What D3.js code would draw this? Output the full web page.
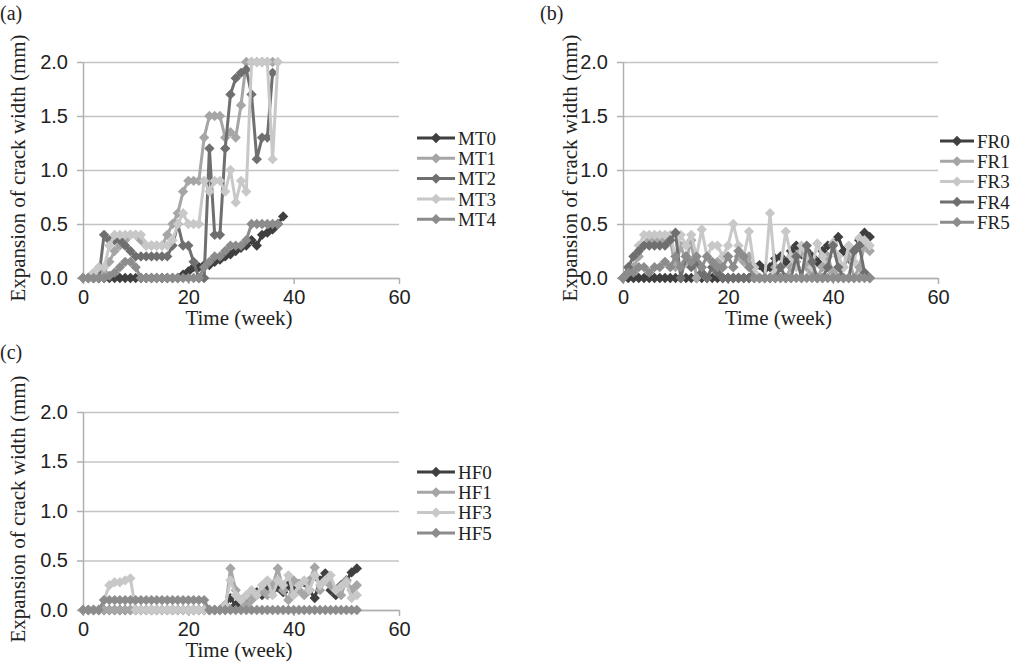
<!DOCTYPE html>
<html>
<head>
<meta charset="utf-8">
<script src="https://cdn.jsdelivr.net/npm/d3@7"></script>
<style>
  body { margin: 0; background: #fff; }
  svg { font-family: "Liberation Serif", "Times New Roman", serif; }
  .axis path, .axis line { stroke: #b0b0b0; stroke-width: 1.5; }
  .grid line { stroke: #c4c4c4; stroke-width: 1.5; }
  .axis text { fill: #222; font-size: 20px; }
</style>
</head>
<body>
<svg id="chart" width="1010" height="669"></svg>
<script>
// ---- data (value per week, starting at week 0) ----
const xTicks = [0, 20, 40, 60];
const yTicks = [0, 0.5, 1.0, 1.5, 2.0];

// (a)
const namesA = ['MT0', 'MT1', 'MT2', 'MT3', 'MT4'];
const MT0 = [0,0,0,0,0,0,0,0,0,0, 0,0,0,0,0,0,0,0,0,0.03,
  0.06,0.1,0.1,0.12,0.12,0.15,0.17,0.2,0.22,0.25, 0.28,0.3,0.35,0.3,0.4,0.42,0.45,0.5,0.57];
const MT1 = [0,0,0,0,0.05,0.15,0.25,0.3,0.35,0.4, 0.4,0.35,0.3,0.3,0.3,0.3,0.4,0.5,0.6,0.8,
  0.9,0.9,0.9,1.3,1.5,1.5,1.5,1.3,1.35,1.3, 1.6,2.0,2.0,2.0,2.0,2.0,2.0];
const MT2 = [0,0,0,0,0.4,0.35,0.35,0.35,0.3,0.25, 0.2,0.2,0.2,0.2,0.2,0.2,0.2,0.3,0.5,0.3,
  0.3,0.15,0,0,1.2,0.4,0.4,1.2,1.7,1.85, 1.9,1.93,1.7,1.1,1.3,1.3,1.9];
const MT3 = [0,0,0.05,0.1,0.1,0.3,0.4,0.4,0.4,0.4, 0.4,0.4,0.3,0.3,0.3,0.3,0.3,0.35,0.5,0.6,
  0.5,0.5,0.5,0.9,0.8,0.9,0.9,0.8,1.0,0.7, 0.9,0.8,2.0,2.0,2.0,2.0,1.1,2.0];
const MT4 = [0,0,0,0,0,0.02,0.05,0.1,0.15,0.15, 0.1,0,0,0,0,0,0,0,0,0,
  0,0,0,0.1,0.15,0.2,0.2,0.25,0.3,0.3, 0.3,0.35,0.5,0.5,0.5,0.5,0.5,0.5];

// (b)
const namesB = ['FR0', 'FR1', 'FR3', 'FR4', 'FR5'];
const FR0 = [0,0,0,0,0,0,0,0,0,0, 0,0,0,0,0,0,0,0,0,0,
  0,0,0,0,0,0.1,0.12,0.08,0.1,0.18, 0.2,0.15,0.25,0.3,0.22,0.25,0.2,0.15,0.25,0.3,
  0.32,0.38,0.25,0.18,0.25,0.35,0.42,0.38];
const FR1 = [0,0.05,0.1,0.2,0.3,0.35,0.35,0.35,0.35,0.35, 0.1,0.3,0.15,0.35,0,0.1,0,0.1,0.15,0.1,
  0.2,0.1,0.2,0.15,0.2,0,0,0,0,0.1, 0,0,0.1,0.15,0.25,0.1,0.05,0,0.1,0.2,
  0.05,0,0.1,0.2,0,0.1,0.3,0.25];
const FR3 = [0,0.1,0.2,0.3,0.4,0.4,0.4,0.4,0.4,0.4, 0.2,0.4,0.3,0.4,0.2,0.45,0.2,0.3,0.3,0.2,
  0.3,0.5,0.3,0.2,0.43,0.1,0,0,0.6,0.05, 0.1,0.43,0.2,0.1,0.3,0.2,0.1,0.32,0.2,0.1,
  0.32,0.2,0.1,0.3,0.15,0.37,0.35,0.3];
const FR4 = [0,0.1,0.2,0.25,0.3,0.3,0.3,0.3,0.3,0.35, 0.42,0,0.2,0.1,0.15,0.05,0,0.1,0.05,0,
  0,0,0,0,0,0,0,0,0,0, 0.1,0,0,0.2,0,0.3,0.15,0,0,0.1,
  0.3,0.1,0,0,0.25,0.3,0.05,0];
const FR5 = [0,0.05,0.05,0.1,0.1,0.05,0.1,0.1,0.15,0.1, 0.2,0.1,0.2,0.15,0.2,0.1,0.2,0.15,0.1,0.1,
  0.2,0.1,0.25,0.2,0.1,0,0,0,0,0, 0,0,0,0,0,0,0,0,0,0,
  0,0,0,0,0,0,0,0];

// (c)
const namesC = ['HF0', 'HF1', 'HF3', 'HF5'];
const HF0 = [0,0,0,0,0,0,0,0,0,0, 0,0,0,0,0,0,0,0,0,0,
  0,0,0,0,0,0,0,0.05,0.12,0.05, 0.1,0.08,0.13,0.18,0.15,0.24,0.2,0.23,0.18,0.25,
  0.2,0.26,0.28,0.2,0.12,0.3,0.37,0.2,0.15,0.25, 0.3,0.38,0.42];
const HF1 = [0,0,0,0,0,0,0,0,0,0, 0,0,0,0,0,0,0,0,0,0,
  0,0,0,0,0,0,0,0,0.42,0.2, 0.1,0.05,0.1,0.15,0.2,0.15,0.25,0.42,0.2,0.1,
  0.3,0.2,0.15,0.3,0.43,0.2,0.3,0.25,0.2,0.15, 0.3,0.2,0.25];
const HF3 = [0,0,0,0,0.1,0.25,0.28,0.28,0.3,0.32, 0,0,0,0,0,0,0,0,0,0,
  0,0,0,0,0,0,0,0.05,0.3,0.15, 0.1,0.15,0.2,0.15,0.25,0.3,0.15,0.3,0.25,0.35,
  0.15,0.25,0.3,0.2,0.35,0.25,0.3,0.35,0.2,0.24, 0.28,0.12,0.15];
const HF5 = [0,0,0,0,0.1,0.1,0.1,0.1,0.1,0.1, 0.1,0.1,0.1,0.1,0.1,0.1,0.1,0.1,0.1,0.1,
  0.1,0.1,0.1,0.1,0,0,0,0,0,0, 0,0,0,0,0,0,0,0,0,0,
  0,0,0,0,0,0,0,0,0,0, 0,0,0];

// greys used by the series, in legend order
const greysA = ['#3f3f3f', '#a6a6a6', '#6f6f6f', '#c8c8c8', '#8c8c8c'];
const greysB = ['#3f3f3f', '#a6a6a6', '#c8c8c8', '#6f6f6f', '#8c8c8c'];
const greysC = ['#3f3f3f', '#a6a6a6', '#c8c8c8', '#8c8c8c'];

const svg = d3.select('#chart');
const diamond = d3.symbol().type(d3.symbolDiamond2).size(68);

function drawPanel(cfg) {
  const w = cfg.width, h = cfg.height;
  const g = svg.append('g').attr('transform', `translate(${cfg.left},${cfg.top})`);

  const x = d3.scaleLinear().domain([0, 60]).range([0, w]);
  const y = d3.scaleLinear().domain([0, 2]).range([h, 0]);

  // gridlines
  g.append('g').attr('class', 'grid')
    .call(d3.axisLeft(y).tickValues(yTicks).tickSize(-w).tickFormat(''))
    .call(s => s.select('.domain').remove());

  // y axis
  g.append('g').attr('class', 'axis')
    .call(d3.axisLeft(y).tickValues(yTicks).tickSize(6).tickSizeOuter(0)
      .tickPadding(9).tickFormat(d3.format('.1f')));

  // x axis
  g.append('g').attr('class', 'axis')
    .attr('transform', `translate(0,${h})`)
    .call(d3.axisBottom(x).tickValues(xTicks).tickSize(6).tickSizeOuter(0).tickPadding(6));

  const line = d3.line()
    .x((d, i) => x(i))
    .y(d => y(d));

  cfg.series.forEach((vals, k) => {
    const sg = g.append('g');
    sg.append('path')
      .datum(vals)
      .attr('d', line)
      .attr('fill', 'none')
      .attr('stroke', cfg.colors[k])
      .attr('stroke-width', 3)
      .attr('stroke-linejoin', 'round');
    sg.selectAll('path.pt')
      .data(vals)
      .join('path')
      .attr('class', 'pt')
      .attr('d', diamond)
      .attr('transform', (d, i) => `translate(${x(i)},${y(d)})`)
      .attr('fill', cfg.colors[k]);
  });

  // axis titles
  svg.append('text')
    .attr('transform', `translate(${cfg.yTitleX},${cfg.top + h / 2 - 2}) rotate(-90)`)
    .attr('text-anchor', 'middle')
    .attr('dy', '0.35em')
    .style('font-size', '21px')
    .attr('fill', '#222')
    .text('Expansion of crack width (mm)');

  svg.append('text')
    .attr('x', cfg.left + w / 2 - 2)
    .attr('y', cfg.top + h + 40)
    .attr('text-anchor', 'middle')
    .attr('dy', '0.35em')
    .style('font-size', '21px')
    .attr('fill', '#222')
    .text('Time (week)');

  svg.append('text')
    .attr('x', cfg.labelX)
    .attr('y', cfg.labelY)
    .attr('dy', '0.35em')
    .style('font-size', '20px')
    .attr('fill', '#222')
    .text(cfg.label);

  // legend
  const lg = svg.append('g').attr('transform', `translate(${cfg.legX},${cfg.legY})`);
  cfg.names.forEach((n, k) => {
    const row = lg.append('g').attr('transform', `translate(0,${k * 20.3})`);
    row.append('line')
      .attr('x1', 0).attr('x2', cfg.legLen)
      .attr('stroke', cfg.colors[k]).attr('stroke-width', 3);
    row.append('path').attr('d', diamond)
      .attr('transform', `translate(${cfg.legLen / 2},0)`)
      .attr('fill', cfg.colors[k]);
    row.append('text')
      .attr('x', cfg.legLen + 3)
      .attr('dy', '0.35em')
      .style('font-size', '19px')
      .attr('fill', '#222')
      .text(n);
  });
}

drawPanel({
  left: 83, top: 62, width: 316, height: 216,
  series: [MT0, MT1, MT2, MT3, MT4], names: namesA, colors: greysA,
  yTitleX: 18, label: '(a)', labelX: 0, labelY: 13,
  legX: 417, legY: 138, legLen: 38
});

drawPanel({
  left: 623, top: 62, width: 315, height: 216,
  series: [FR0, FR1, FR3, FR4, FR5], names: namesB, colors: greysB,
  yTitleX: 570, label: '(b)', labelX: 540, labelY: 13,
  legX: 940, legY: 141, legLen: 34
});

drawPanel({
  left: 83, top: 412, width: 316, height: 198,
  series: [HF0, HF1, HF3, HF5], names: namesC, colors: greysC,
  yTitleX: 18, label: '(c)', labelX: 0, labelY: 352,
  legX: 417, legY: 472, legLen: 38
});
</script>
</body>
</html>
